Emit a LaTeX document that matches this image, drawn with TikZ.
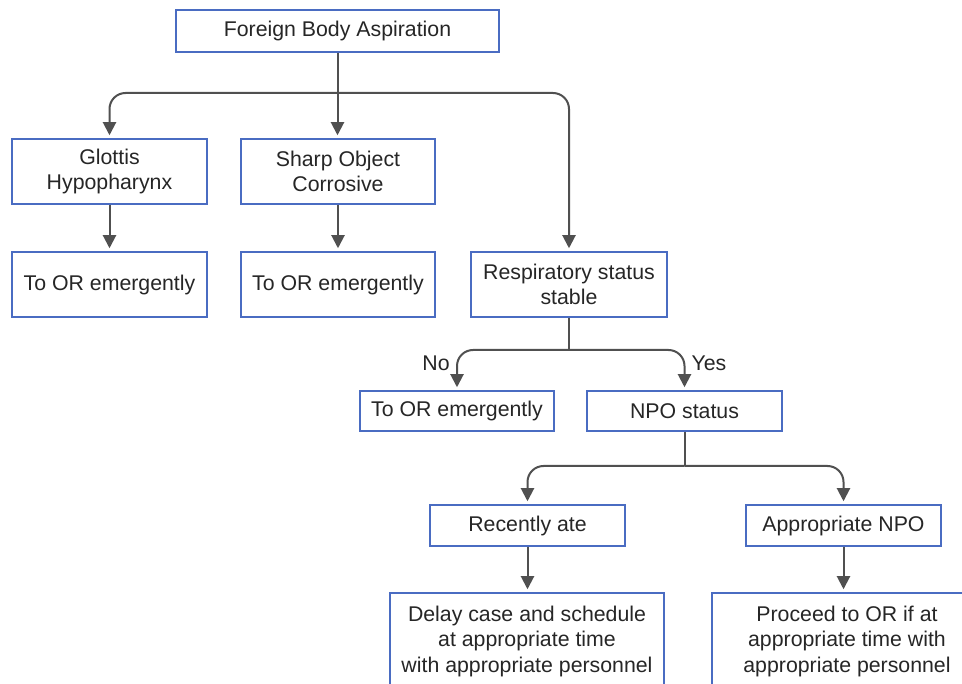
\documentclass[tikz,border=0pt]{standalone}
\usepackage{fontspec}
\setmainfont{Liberation Sans}
\usetikzlibrary{arrows.meta}
\definecolor{boxblue}{HTML}{4A6CC2}
\definecolor{linegray}{HTML}{505050}
\tikzset{
  box/.style={draw=boxblue, line width=1.5pt, fill=white, inner sep=0pt, align=center,
    font=\fontsize{21.3}{25.5}\selectfont, text=black!85},
  conn/.style={draw=linegray, line width=2pt},
  arr/.style={conn, rounded corners=16pt, -{Triangle[length=13pt,width=13pt]}, shorten >=3pt},
  lbl/.style={font=\fontsize{21.3}{25.5}\selectfont, text=black!85, inner sep=0pt}
}
\begin{document}
\begin{tikzpicture}[x=1pt,y=-1pt]
\useasboundingbox (0,0) rectangle (962,684);
\clip (0,0) rectangle (962,684);
\fill[white] (0,0) rectangle (962,684);

\node[box, minimum width=323pt, minimum height=42pt] (fba) at (337.5,31) {Foreign Body Aspiration};
\node[box, minimum width=195pt, minimum height=65pt] (glot) at (109.5,171.5) {Glottis\\Hypopharynx};
\node[box, minimum width=194pt, minimum height=65pt] (sharp) at (338,171.5) {Sharp Object\\Corrosive};
\node[box, minimum width=195pt, minimum height=65pt] (or1) at (109.5,284.5) {To OR emergently};
\node[box, minimum width=194pt, minimum height=65pt] (or2) at (338,284.5) {To OR emergently};
\node[box, minimum width=196pt, minimum height=65pt] (resp) at (569,284.5) {Respiratory status\\stable};
\node[box, minimum width=194pt, minimum height=40pt] (or3) at (457,411) {To OR emergently};
\node[box, minimum width=195pt, minimum height=40pt] (npo) at (684.5,411) {NPO status};
\node[box, minimum width=195pt, minimum height=41pt] (ate) at (527.5,525.5) {Recently ate};
\node[box, minimum width=195pt, minimum height=41pt] (apnpo) at (843.5,525.5) {Appropriate NPO};
\node[box, minimum width=274pt, minimum height=96pt] (delay) at (527,641) {Delay case and schedule\\at appropriate time\\with appropriate personnel};
\node[box, minimum width=270pt, minimum height=96pt] (proceed) at (847,641) {Proceed to OR if at\\appropriate time with\\appropriate personnel};

\node[lbl] (no) at (436,363) {No};
\node[lbl] (yes) at (709,363) {Yes};

\coordinate (j1) at (337.5,93);
\coordinate (j2) at (569,350);
\coordinate (j3) at (684.5,466);

\draw[conn] (fba.south) -- (j1);
\draw[arr] (j1) -| (glot.north);
\draw[arr] (j1) -- (sharp.north -| j1);
\draw[arr] (j1) -| (resp.north);
\draw[arr] (glot.south) -- (or1.north);
\draw[arr] (sharp.south) -- (or2.north);

\draw[conn] (resp.south) -- (j2);
\draw[arr] (j2) -| (or3.north);
\draw[arr] (j2) -| (npo.north);

\draw[conn] (npo.south) -- (j3);
\draw[arr] (j3) -| (ate.north);
\draw[arr] (j3) -| (apnpo.north);

\draw[arr] (ate.south) -- (ate.south |- delay.north);
\draw[arr] (apnpo.south) -- (apnpo.south |- proceed.north);
\end{tikzpicture}
\end{document}
